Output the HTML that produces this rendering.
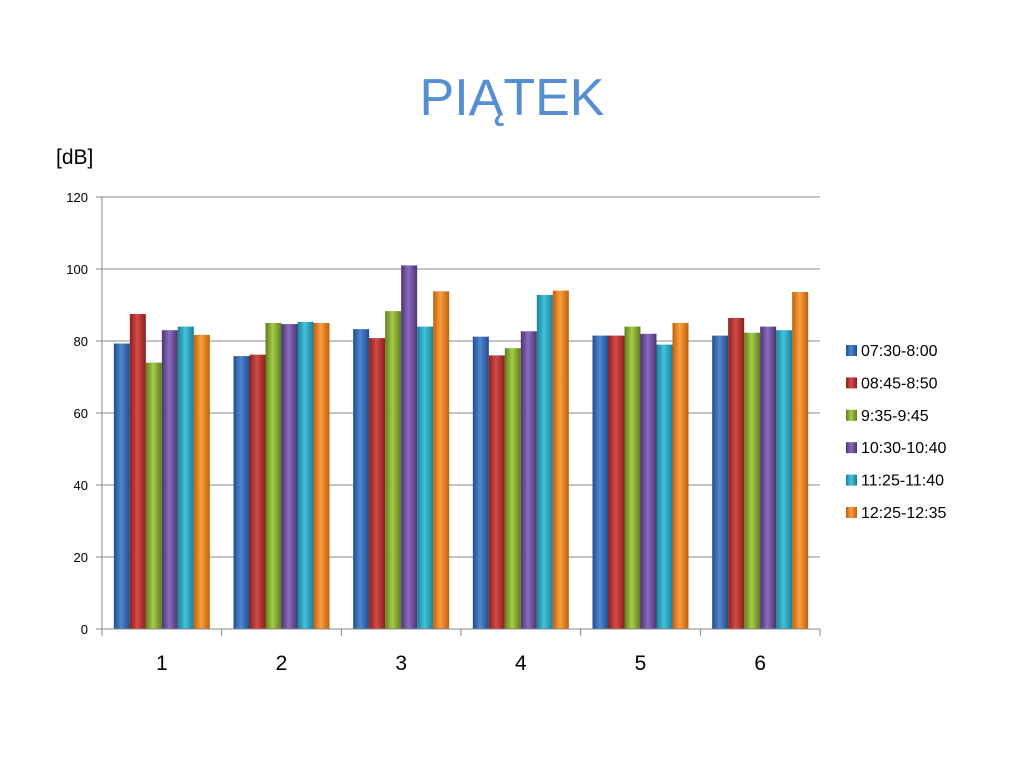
<!DOCTYPE html>
<html><head><meta charset="utf-8"><style>
body{margin:0;background:#fff;width:1024px;height:768px;overflow:hidden;font-family:"Liberation Sans",sans-serif}
</style></head><body>
<svg width="1024" height="768">
<defs id="defs"></defs>
<text x="512" y="115" text-anchor="middle" font-size="52" fill="#558ed5">PIĄTEK</text>
<text x="56" y="164" font-size="21" fill="#000">[dB]</text>
<g id="grid"></g><g id="bars"></g><g id="axes"></g><g id="legend"></g>
</svg>
<script>
const categories=["1","2","3","4","5","6"];
const seriesNames=["07:30-8:00","08:45-8:50","9:35-9:45","10:30-10:40","11:25-11:40","12:25-12:35"];
const s1=[79.3,75.8,83.3,81.2,81.5,81.5];
const s2=[87.5,76.2,80.8,76,81.5,86.4];
const s3=[74,85,88.3,78,84,82.3];
const s4=[83,84.7,101,82.7,82,84];
const s5=[84,85.3,84,92.8,79,83];
const s6=[81.7,85,93.8,94,85,93.6];
const yTicks=[0,20,40,60,80,100,120];
const series=[s1,s2,s3,s4,s5,s6];
const colors=[["#1f4e8c","#4f86d0"],["#8c1f1c","#d24a46"],["#5f7d1c","#a6cc48"],["#4b3570","#8a6bbf"],["#1a7f96","#44c1dc"],["#c0600c","#fb9e3e"]];
const NS="http://www.w3.org/2000/svg";
const X0=102,X1=820,Y0=629,Y1=197;
const y=v=>Y0-(v/120)*(Y0-Y1);
const gw=(X1-X0)/categories.length;
const bw=16;
function mk(t,a,p){const e=document.createElementNS(NS,t);for(const k in a)e.setAttribute(k,a[k]);p.appendChild(e);return e;}
const defs=document.getElementById('defs');
colors.forEach((c,i)=>{const g=mk('linearGradient',{id:'g'+i,x1:0,x2:1,y1:0,y2:0},defs);
mk('stop',{offset:'0',['stop-color']:c[0]},g);mk('stop',{offset:'0.45',['stop-color']:c[1]},g);mk('stop',{offset:'1',['stop-color']:c[0]},g);});
const grid=document.getElementById('grid');
yTicks.forEach(t=>{
 const l=mk('line',{x1:X0-6,x2:X1,y1:y(t),y2:y(t),stroke:'#888','stroke-width':1},grid);
 
 
 const tx=mk('text',{x:88,y:y(t)+5,'text-anchor':'end','font-size':13},grid);tx.textContent=t;
 
 
});
const bars=document.getElementById('bars');
categories.forEach((c,ci)=>{
 const gx=X0+ci*gw+(gw-bw*6)/2;
 series.forEach((s,si)=>{
  const v=s[ci];
  const r=mk('rect',{x:gx+si*bw,y:y(v),width:bw,height:Y0-y(v),fill:'url(#g'+si+')'},bars);
  
  
 });
 const tx=mk('text',{x:X0+(ci+0.5)*gw,y:670,'text-anchor':'middle','font-size':21},bars);tx.textContent=c;
 
 
});
const axes=document.getElementById('axes');
mk('line',{x1:X0,x2:X0,y1:Y1,y2:Y0,stroke:'#888'},axes);
mk('line',{x1:X0,x2:X1,y1:Y0,y2:Y0,stroke:'#888'},axes);
for(let i=0;i<=categories.length;i++)mk('line',{x1:X0+i*gw,x2:X0+i*gw,y1:Y0,y2:Y0+7,stroke:'#888'},axes);
const lg=document.getElementById('legend');
seriesNames.forEach((n,i)=>{
 const yy=351+i*32.4;
 const r=mk('rect',{x:846,y:yy-6,width:11,height:11,fill:'url(#g'+i+')'},lg);
 
 
 const t=mk('text',{x:861,y:yy+5,'font-size':16},lg);t.textContent=n;
 
 
});
</script>
</body></html>
